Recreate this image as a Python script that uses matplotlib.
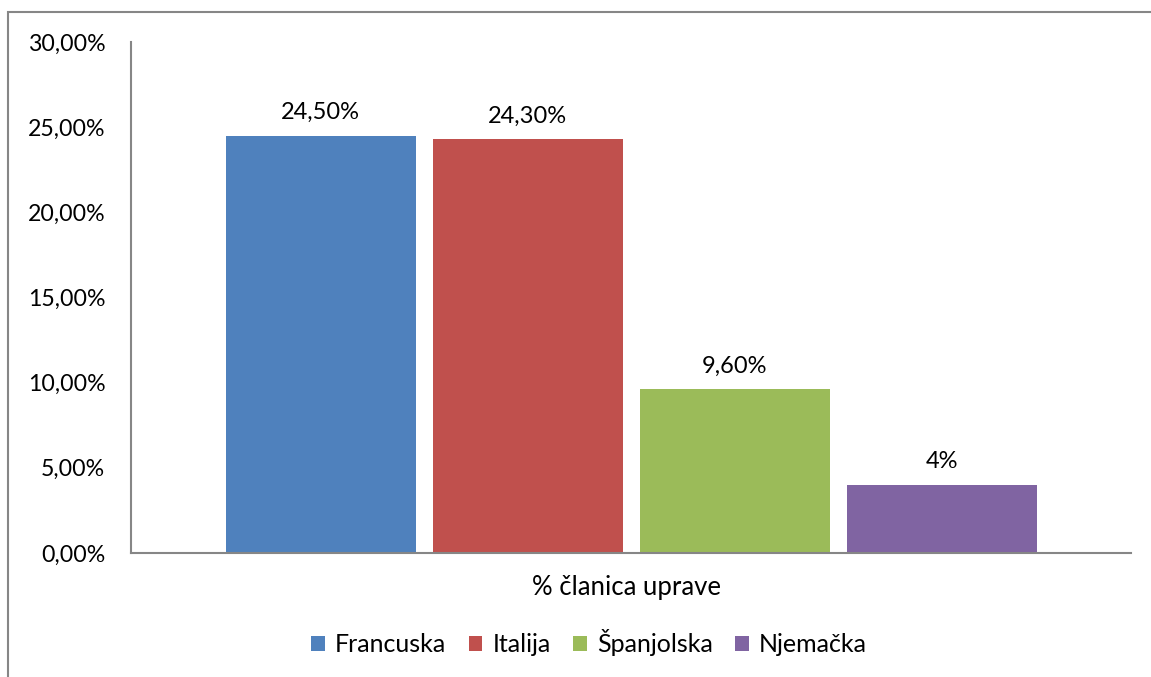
import matplotlib
matplotlib.use("Agg")
import matplotlib.pyplot as plt
from matplotlib.patches import Rectangle
from matplotlib.ticker import FuncFormatter

countries = ["Francuska", "Italija", "Španjolska", "Njemačka"]
shares = [0.245, 0.243, 0.096, 0.04]
value_labels = ["24,50%", "24,30%", "9,60%", "4%"]
category = "% članica uprave"
colors = ["#4F81BD", "#C0504D", "#9BBB59", "#8064A2"]

plt.rcParams["font.family"] = ["Lato", "DejaVu Sans"]

W, H = 1151, 677
fig = plt.figure(figsize=(W / 100, H / 100), dpi=100)
ax = fig.add_axes([131 / W, 1 - 553 / H, 1000 / W, (553 - 42) / H])

# outer chart frame, cut off at right and bottom like the source
fig.patches.append(Rectangle((8 / W, -0.2), 1.2, 1.2 - 12 / H,
                             transform=fig.transFigure, fill=False,
                             edgecolor="#868686", linewidth=1.5))

step = 0.207
width = 0.19
for i, (name, val, lab, col) in enumerate(zip(countries, shares, value_labels, colors)):
    x = 0.5 + (i - 1.5) * step
    ax.bar(x, val, width=width, color=col, label=name)
    ax.annotate(lab, (x, val), xytext=(0, 9), textcoords="offset points",
                ha="center", va="bottom", fontsize=17, color="#000000")

ax.set_xlim(0, 1)
ax.set_ylim(0, 0.30)
ax.set_yticks([0, 0.05, 0.10, 0.15, 0.20, 0.25, 0.30])
ax.yaxis.set_major_formatter(FuncFormatter(lambda v, p: f"{v * 100:.2f}%".replace(".", ",")))
ax.tick_params(axis="y", length=0, pad=18.5, labelsize=16.7)
ax.set_xticks([])
for s in ["top", "right"]:
    ax.spines[s].set_visible(False)
for s in ["left", "bottom"]:
    ax.spines[s].set_color("#868686")
    ax.spines[s].set_linewidth(1.5)

fig.text(627 / W, 1 - 588 / H, category, ha="center", va="center", fontsize=18.5)

leg = fig.legend(loc="center", bbox_to_anchor=(589 / W, 1 - 643 / H), ncol=4,
                 frameon=False, fontsize=18, handlelength=0.55, handleheight=0.55,
                 handletextpad=0.4, columnspacing=0.9)

fig.savefig("out.png", dpi=100)
